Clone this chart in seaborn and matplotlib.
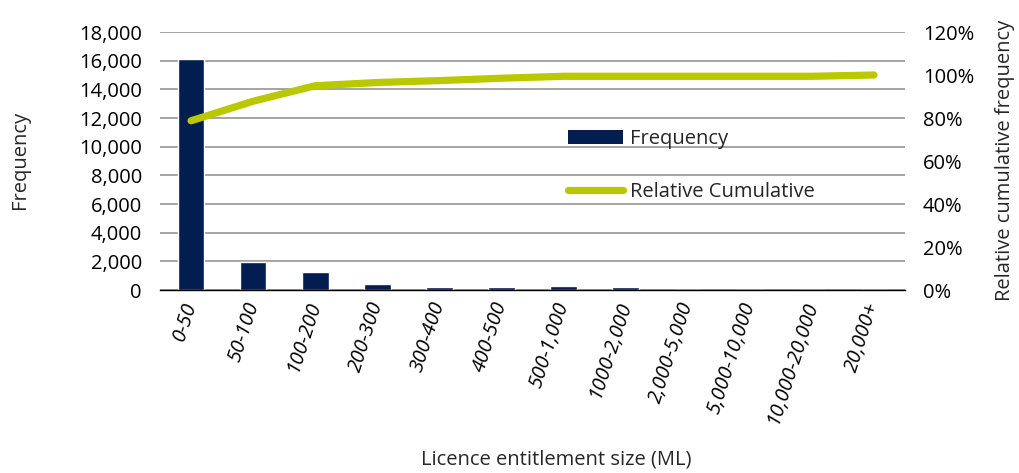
import numpy as np
import pandas as pd
import matplotlib
matplotlib.use("Agg")
import matplotlib.pyplot as plt
import seaborn as sns
from matplotlib.lines import Line2D
from matplotlib.patches import Patch
from matplotlib.ticker import FuncFormatter, MultipleLocator

# Licence entitlement size classes (ML)
size_classes = ["0-50", "50-100", "100-200", "200-300", "300-400", "400-500",
                "500-1,000", "1000-2,000", "2,000-5,000", "5,000-10,000",
                "10,000-20,000", "20,000+"]
# Number of licences in each class
frequency = [16100, 1950, 1250, 430, 190, 190, 300, 190, 20, 5, 2, 1]
# Relative cumulative frequency (%)
relative_cumulative = [78.7, 87.8, 95.0, 96.5, 97.4, 98.5, 99.4, 99.4, 99.4, 99.4, 99.4, 100.0]

df = pd.DataFrame({"size": size_classes, "freq": frequency,
                   "cum": relative_cumulative, "pos": np.arange(len(size_classes))})

NAVY = "#021D50"
LIME = "#BAC800"
GRID = "#8C8C8C"
FS = 14.5

sns.set_theme(style="white")
plt.rcParams["font.family"] = ["Open Sans", "DejaVu Sans"]
plt.rcParams["font.size"] = FS

fig = plt.figure(figsize=(10.2, 4.73), dpi=100)
ax = fig.add_axes([160 / 1020, 183 / 473, 745 / 1020, 258 / 473])

sns.barplot(data=df, x="size", y="freq", color=NAVY, width=0.43,
            saturation=1, ax=ax, zorder=3)
ax.set_ylim(0, 18000)
ax.yaxis.set_major_locator(MultipleLocator(2000))
ax.yaxis.set_major_formatter(FuncFormatter(lambda v, p: f"{int(v):,}"))
ax.set_xlim(-0.5, len(size_classes) - 0.5)
ax.grid(axis="y", color=GRID, linewidth=1.1, zorder=0)
ax.set_axisbelow(True)
for side in ["left", "right", "top"]:
    ax.spines[side].set_visible(False)
ax.spines["bottom"].set_color("black")
ax.spines["bottom"].set_linewidth(1.0)
ax.spines["bottom"].set_zorder(4)
ax.tick_params(axis="y", length=0, pad=13, labelsize=FS, colors="black")
ax.tick_params(axis="x", length=0, pad=9, labelsize=FS, colors="black")
ax.set_xlabel("")
ax.set_ylabel("")
for lab in ax.get_xticklabels():
    lab.set_rotation(72)
    lab.set_ha("right")
    lab.set_va("center")
    lab.set_rotation_mode("anchor")
    lab.set_style("italic")

ax2 = ax.twinx()
sns.lineplot(data=df, x="pos", y="cum", color=LIME, linewidth=5.2, ax=ax2,
             solid_capstyle="round", solid_joinstyle="round", zorder=5)
ax2.set_ylim(0, 120)
ax2.yaxis.set_major_locator(MultipleLocator(20))
ax2.yaxis.set_major_formatter(FuncFormatter(lambda v, p: f"{int(v)}%"))
ax2.set_xlim(-0.5, len(size_classes) - 0.5)
for side in ["left", "right", "top", "bottom"]:
    ax2.spines[side].set_visible(False)
ax2.tick_params(axis="y", length=0, pad=13, labelsize=FS, colors="black")
ax2.set_ylabel("")
ax2.set_xlabel("")
ax2.grid(False)

fig.text(20 / 1020, 1 - 160 / 473, "Frequency", rotation=90, ha="center",
         va="center", fontsize=FS)
fig.text(1005 / 1020, 1 - 160 / 473, "Relative cumulative frequency",
         rotation=90, ha="center", va="center", fontsize=FS)
fig.text(556 / 1020, 1 - 459 / 473, "Licence entitlement size (ML)",
         ha="center", va="center", fontsize=FS)

handles = [Patch(facecolor=NAVY, edgecolor="none"),
           Line2D([0], [0], color=LIME, linewidth=5.2, solid_capstyle="round")]
ax2.legend(handles, ["Frequency", "Relative Cumulative"], frameon=False,
           loc="upper left", bbox_to_anchor=(568 / 1020, 1 - 129 / 473),
           bbox_transform=fig.transFigure, fontsize=FS, handlelength=2.75,
           handleheight=0.75, handletextpad=0.35, labelspacing=1.65,
           borderpad=0, borderaxespad=0)

fig.savefig("out.png", dpi=100)
